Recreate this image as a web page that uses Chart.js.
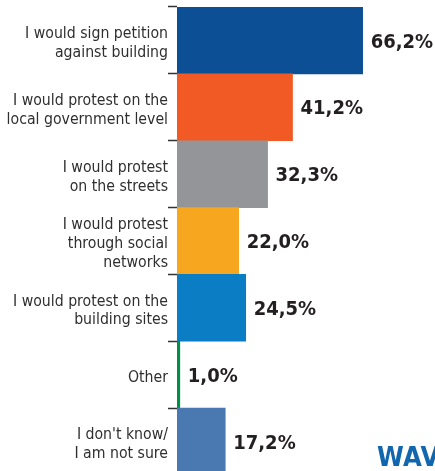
<!DOCTYPE html>
<html>
<head>
<meta charset="utf-8">
<script src="https://cdn.jsdelivr.net/npm/chart.js@4/dist/chart.umd.min.js"></script>
<style>
  html, body { margin: 0; padding: 0; background: #fff; overflow: hidden; }
  #wrap { position: relative; width: 435px; height: 471px; overflow: hidden; }
  #brand {
    position: absolute; left: 377px; top: 441px;
    font: bold 27px 'DejaVu Sans Condensed', 'DejaVu Sans', sans-serif;
    color: #1166ad; white-space: nowrap; letter-spacing: 0.5px;
  }
</style>
</head>
<body>
<div id="wrap">
  <canvas id="c" width="435" height="475"></canvas>
  <div id="brand">WAVE</div>
</div>
<script>
// Answer options, top to bottom
const categories = [
  ["I would sign petition", "against building"],
  ["I would protest on the", "local government level"],
  ["I would protest", "on the streets"],
  ["I would protest", "through social", "networks"],
  ["I would protest on the", "building sites"],
  ["Other"],
  ["I don't know/", "I am not sure"]
];

// Share of respondents, %
const shares = [66.2, 41.2, 32.3, 22.0, 24.5, 1.0, 17.2];

// Value labels as printed next to each bar
const shareLabels = ["66,2%", "41,2%", "32,3%", "22,0%", "24,5%", "1,0%", "17,2%"];

const barColors = ["#0c4f94", "#f15a24", "#939598", "#f6a61f", "#0a7dc5", "#00904a", "#4a78b1"];

const FONT = "'DejaVu Sans Condensed', 'DejaVu Sans', sans-serif";

// Writes each percentage just past the end of its bar
const valueLabels = {
  id: 'valueLabels',
  afterDatasetsDraw(chart) {
    const ctx = chart.ctx;
    const meta = chart.getDatasetMeta(0);
    ctx.save();
    ctx.font = "bold 20px " + FONT;
    ctx.fillStyle = "#231f20";
    ctx.textAlign = "left";
    ctx.textBaseline = "middle";
    meta.data.forEach((bar, i) => {
      ctx.fillText(shareLabels[i], bar.x + 8, bar.y + 2);
    });
    ctx.restore();
  }
};

new Chart(document.getElementById('c'), {
  type: 'bar',
  data: {
    labels: categories,
    datasets: [{
      data: shares,
      backgroundColor: barColors,
      borderWidth: 0,
      barPercentage: 1,
      categoryPercentage: 1
    }]
  },
  options: {
    indexAxis: 'y',
    responsive: false,
    animation: false,
    events: [],
    layout: { padding: { top: 7, right: 0, bottom: 0, left: 0 } },
    plugins: { legend: { display: false }, tooltip: { enabled: false } },
    scales: {
      x: { display: false, min: 0, max: 92 },
      y: {
        afterFit(scale) {
          scale.width = 177;
          scale.paddingTop = 0;
          scale.paddingBottom = 0;
        },
        border: { display: false },
        grid: {
          offset: true,
          drawOnChartArea: false,
          drawTicks: true,
          tickLength: 9,
          tickWidth: 1.5,
          tickColor: "#333333"
        },
        ticks: {
          padding: 0,
          labelOffset: 3,
          color: "#2f2f2f",
          font: { family: FONT, size: 15.7, lineHeight: 1.2 }
        }
      }
    }
  },
  plugins: [valueLabels]
});
</script>
</body>
</html>
